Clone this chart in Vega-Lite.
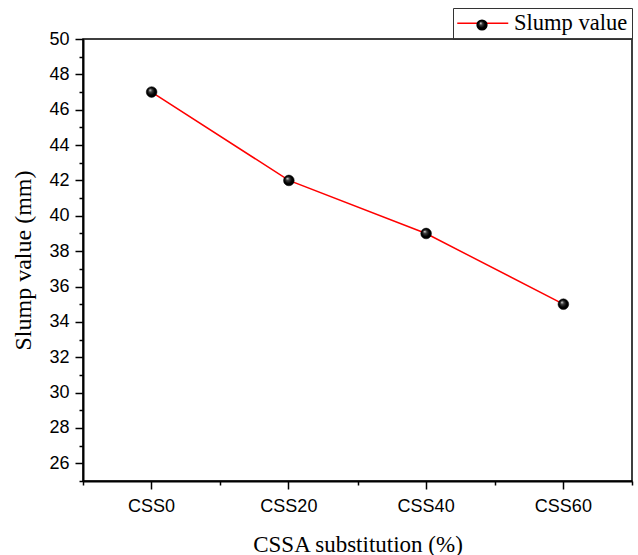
{
  "$schema": "https://vega.github.io/schema/vega-lite/v6.json",
  "width": 549,
  "height": 442,
  "autosize": {"type": "none"},
  "padding": {"left": 83, "top": 39, "right": 6, "bottom": 74},
  "background": "white",
  "config": {
    "view": {"stroke": "black", "strokeWidth": 1.5},
    "axis": {"grid": false, "tickColor": "black", "tickWidth": 1.5, "domainColor": "black", "domainWidth": 2}
  },
  "data": {
    "values": [
      {"mix": "CSS0", "slump": 47},
      {"mix": "CSS20", "slump": 42},
      {"mix": "CSS40", "slump": 39},
      {"mix": "CSS60", "slump": 35}
    ]
  },
  "layer": [
    {
      "mark": {"type": "line", "color": "#ff0000", "strokeWidth": 1.5},
      "encoding": {
        "x": {
          "field": "mix", "type": "nominal", "sort": null, "bandPosition": 0.5,
          "scale": {"type": "band", "paddingInner": 0, "paddingOuter": 0},
          "axis": {
            "orient": "bottom", "title": "CSSA substitution (%)",
            "titleFont": "Liberation Serif", "titleFontSize": 23, "titleFontWeight": "normal",
            "titleColor": "black", "titlePadding": 18,
            "labelFont": "Liberation Sans", "labelFontSize": 18, "labelColor": "black",
            "labelAngle": 0, "labelPadding": 8, "tickSize": 8, "domain": true
          }
        },
        "y": {
          "field": "slump", "type": "quantitative",
          "scale": {"domain": [25, 50], "nice": false, "zero": false},
          "axis": {
            "orient": "left", "values": [26, 28, 30, 32, 34, 36, 38, 40, 42, 44, 46, 48, 50],
            "title": "Slump value (mm)",
            "titleFont": "Liberation Serif", "titleFontSize": 24, "titleFontWeight": "normal",
            "titleColor": "black", "titlePadding": 13,
            "labelFont": "Liberation Sans", "labelFontSize": 18, "labelColor": "black",
            "labelPadding": 6, "tickSize": 8, "domain": true
          }
        },
        "stroke": {
          "datum": "Slump value",
          "scale": {"range": ["#ff0000"]},
          "legend": {
            "orient": "none", "legendX": 370, "legendY": -31, "title": null,
            "symbolType": "M-5.1,0H5.1", "symbolSize": 100, "symbolOffset": 14.5,
            "symbolStrokeWidth": 1.5, "labelOffset": 20,
            "labelFont": "Liberation Serif", "labelFontSize": 22.5, "labelColor": "black",
            "padding": 4, "strokeColor": "#333333"
          }
        }
      }
    },
    {
      "mark": {
        "type": "point", "filled": true, "size": 115, "opacity": 1,
        "stroke": "black", "strokeWidth": 0.5,
        "fill": {
          "gradient": "radial", "x1": 0.35, "y1": 0.3, "r1": 0, "x2": 0.5, "y2": 0.5, "r2": 0.5,
          "stops": [
            {"offset": 0, "color": "#f0f0f0"},
            {"offset": 0.3, "color": "#404040"},
            {"offset": 0.7, "color": "#000000"},
            {"offset": 1, "color": "#000000"}
          ]
        }
      },
      "encoding": {
        "x": {
          "field": "mix", "type": "nominal", "sort": null, "bandPosition": 0.5,
          "axis": {"orient": "bottom", "tickBand": "extent", "labels": false, "title": null, "tickSize": 4, "domain": false}
        },
        "y": {
          "field": "slump", "type": "quantitative",
          "axis": {
            "orient": "left", "values": [25, 27, 29, 31, 33, 35, 37, 39, 41, 43, 45, 47, 49],
            "labels": false, "title": null, "tickSize": 4, "domain": false
          }
        },
        "shape": {
          "datum": "Slump value marker",
          "scale": {"range": ["circle"]},
          "legend": {
            "orient": "none", "legendX": 393, "legendY": -20, "title": null,
            "symbolSize": 95, "padding": 0, "labelExpr": "''", "labelFontSize": 1, "labelOffset": 0,
            "encode": {
              "symbols": {
                "update": {
                  "fill": {"value": {
                    "gradient": "radial", "x1": 0.35, "y1": 0.3, "r1": 0, "x2": 0.5, "y2": 0.5, "r2": 0.5,
                    "stops": [
                      {"offset": 0, "color": "#f0f0f0"},
                      {"offset": 0.3, "color": "#404040"},
                      {"offset": 0.7, "color": "#000000"},
                      {"offset": 1, "color": "#000000"}
                    ]
                  }},
                  "stroke": {"value": "black"},
                  "strokeWidth": {"value": 0.5},
                  "opacity": {"value": 1}
                }
              }
            }
          }
        }
      }
    }
  ],
  "resolve": {"axis": {"x": "independent", "y": "independent"}}
}
